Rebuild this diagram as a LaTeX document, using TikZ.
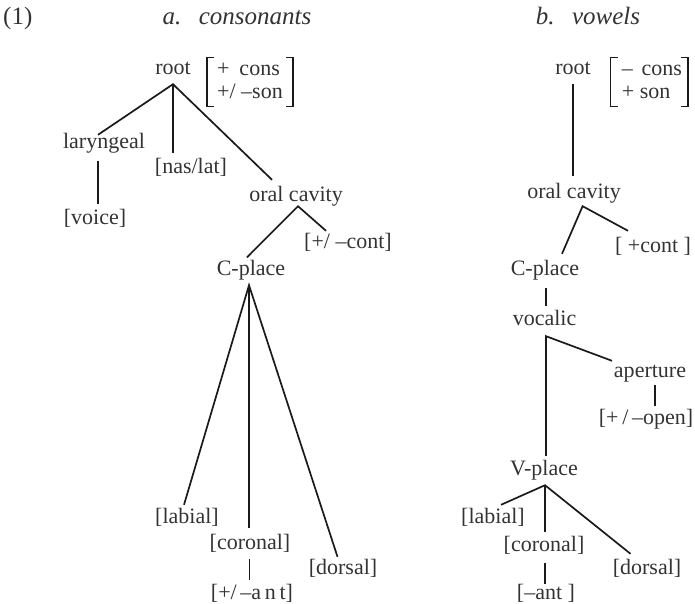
\documentclass[tikz,border=0pt]{standalone}
\usepackage{fontspec}
\setmainfont{Liberation Serif}
\definecolor{txt}{HTML}{333333}
\definecolor{lncol}{HTML}{1A1A1A}
\begin{document}
\begin{tikzpicture}[x=1pt,y=-1pt,
  lbl/.style={inner sep=0pt, text height=15pt, text depth=5pt, font=\fontsize{22}{24}\selectfont, text=txt},
  ttl/.style={inner sep=0pt, anchor=base, font=\fontsize{25}{28}\selectfont, text=txt},
  mtx/.style={inner xsep=0pt, inner ysep=1.5pt, font=\fontsize{22}{23}\selectfont, text=txt},
  ln/.style={line width=1.7pt, draw=lncol},
  brk/.style={line width=1.5pt, draw=lncol}]
\useasboundingbox (0,0) rectangle (695,604);
% titles
\node[ttl, anchor=base west] (num) at (3,25) {(1)};
\node[ttl] (ta) at (237,25) {\itshape a.\hspace{0.7em}consonants};
\node[ttl] (tb) at (588,25) {\itshape b.\hspace{0.7em}vowels};
% ---------- a. consonants ----------
\node[lbl] (root) at (173,70) {root};
\node[mtx, anchor=west] (ma) at (217,82) {\begin{tabular}{@{}l@{}}+\hspace{0.45em}cons\\+/ –son\end{tabular}};
\node[lbl] (lar) at (104,144) {laryngeal};
\node[lbl] (voice) at (95,219) {[voice]};
\node[lbl] (nas) at (191,169) {[nas/lat]};
\node[lbl] (oc) at (296,196) {oral cavity};
\node[lbl] (cont) at (348,243.5) {[+/ –cont]};
\node[lbl] (cp) at (251,270) {C-place};
\node[lbl] (lab) at (187,518) {[labial]};
\node[lbl] (cor) at (250,544) {[coronal]};
\node[lbl] (ant) at (252,594) {[+/\,–a\,n\,t]};
\node[lbl] (dor) at (343,569) {[dorsal]};
% brackets a
\draw[brk] ([xshift=-3pt]ma.north west) -| ([xshift=-10pt]ma.south west) -- ([xshift=-3pt]ma.south west);
\draw[brk] ([xshift=3pt]ma.north east) -| ([xshift=10pt]ma.south east) -- ([xshift=3pt]ma.south east);
% connectors a
\draw[ln] ([xshift=-6pt,yshift=-1pt]lar.north) -- ([yshift=-4pt]root.south) -- ([xshift=-24pt,yshift=6pt]oc.north);
\draw[ln] ([yshift=-4pt]root.south) -- ([xshift=-18pt,yshift=6pt]nas.north);
\draw[ln] ([xshift=-6pt,yshift=-7pt]lar.south) -- ([xshift=3pt,yshift=5pt]voice.north);
\draw[ln] ([xshift=-4pt,yshift=2.5pt]cp.north) -- ([xshift=2pt]oc.south) -- ([xshift=-22pt,yshift=2.5pt]cont.north);
\draw[ln] ([xshift=-3pt,yshift=3pt]lab.north) -- ([xshift=-2pt,yshift=-5pt]cp.south) -- ([xshift=-5.5pt,yshift=2pt]dor.north);
\draw[ln] ([xshift=-2pt,yshift=-5pt]cp.south) -- ([xshift=-1pt,yshift=6pt]cor.north);
\draw[ln] ([xshift=-0.5pt,yshift=-5pt]cor.south) -- ([xshift=-2.5pt,yshift=4pt]ant.north);
% ---------- b. vowels ----------
\node[lbl] (rootb) at (573,70) {root};
\node[mtx, anchor=west] (mb) at (621.7,82) {\begin{tabular}{@{}l@{}}–\hspace{0.4em}cons\\+ son\end{tabular}};
\node[lbl] (ocb) at (574,193) {oral cavity};
\node[lbl] (contb) at (653,247) {[\ +cont\ ]};
\node[lbl] (cpb) at (545,270) {C-place};
\node[lbl] (voc) at (544.5,320) {vocalic};
\node[lbl] (ap) at (650,372) {aperture};
\node[lbl] (open) at (646,419) {[+\,/\,–open]};
\node[lbl] (vp) at (544,470) {V-place};
\node[lbl] (labb) at (493,518) {[labial]};
\node[lbl] (corb) at (544,546) {[coronal]};
\node[lbl] (antb) at (546,594) {[–ant\ ]};
\node[lbl] (dorb) at (647,569) {[dorsal]};
% brackets b
\draw[brk] ([xshift=-4pt]mb.north west) -| ([xshift=-11pt]mb.south west) -- ([xshift=-4pt]mb.south west);
\draw[brk] ([xshift=-1pt]mb.north east) -| ([xshift=6pt]mb.south east) -- ([xshift=-1pt]mb.south east);
% connectors b
\draw[ln] ([yshift=-4pt]rootb.south) -- ([xshift=-1pt,yshift=7pt]ocb.north);
\draw[ln] ([xshift=17pt,yshift=6pt]cpb.north) -- ([xshift=8.6pt,yshift=-3pt]ocb.south) -- ([xshift=-25pt,yshift=6pt]contb.north);
\draw[ln] ([xshift=1pt,yshift=-8pt]cpb.south) -- ([xshift=1.5pt,yshift=4pt]voc.north);
\draw[ln] ([xshift=2pt,yshift=4pt]vp.north) -- ([xshift=1.5pt,yshift=-6pt]voc.south) -- ([xshift=-38pt,yshift=1pt]ap.north);
\draw[ln] ([xshift=5pt,yshift=-3pt]ap.south) -- ([xshift=9pt,yshift=3pt]open.north);
\draw[ln] ([xshift=8pt,yshift=3pt]labb.north) -- ([xshift=1pt,yshift=-5pt]vp.south) -- ([xshift=-16.5pt,yshift=5pt]dorb.north);
\draw[ln] ([xshift=1pt,yshift=-5pt]vp.south) -- ([xshift=1pt,yshift=4pt]corb.north);
\draw[ln] ([xshift=1pt,yshift=-7pt]corb.south) -- ([xshift=-1pt]antb.north);
\end{tikzpicture}
\end{document}
